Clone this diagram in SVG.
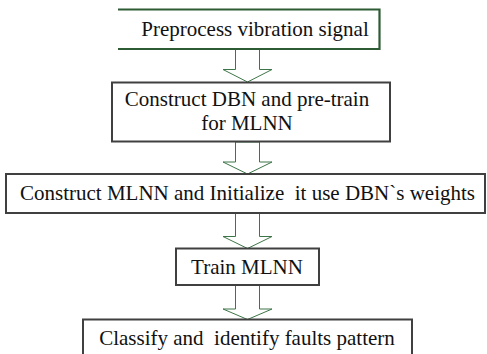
<svg xmlns="http://www.w3.org/2000/svg" width="487" height="354" viewBox="0 0 487 354">
<defs>
<style>
.box{fill:#fff;stroke:#404040;stroke-width:2}
.gbox{fill:#fff;stroke:#2d5b34;stroke-width:2.2}
.arr{fill:#fff;stroke:#3d7548;stroke-width:1}
text{font-family:"Liberation Serif","Times New Roman",serif;font-size:21px;fill:#111;text-anchor:middle;white-space:pre}
</style>
</defs>
<rect width="487" height="354" fill="#fff"/>
<g id="connectors">
<polygon class="arr" points="235.5,49.5 259.5,49.5 259.5,69.5 272,69.5 247.5,82 223,69.5 235.5,69.5"/>
<polygon class="arr" points="235.5,142 259.5,142 259.5,162 272,162 247.5,174 223,162 235.5,162"/>
<polygon class="arr" points="235.5,213 259.5,213 259.5,236.5 272,236.5 247.5,248.5 223,236.5 235.5,236.5"/>
<polygon class="arr" points="235.5,285 259.5,285 259.5,309 272,309 247.5,319.5 223,309 235.5,309"/>
</g>
<g id="n1">
<path class="gbox" d="M118,9.5 H379.5 V49 H118" fill="none"/>
<text x="255" y="36">Preprocess vibration signal</text>
</g>
<g id="n2">
<rect class="box" x="112" y="82.5" width="278" height="59"/>
<text x="247" y="106">Construct DBN and pre-train</text>
<text x="247" y="130">for MLNN</text>
</g>
<g id="n3">
<rect class="box" x="6" y="174" width="479" height="39"/>
<text x="247.5" y="200" xml:space="preserve">Construct MLNN and Initialize  it use DBN`s weights</text>
</g>
<g id="n4">
<rect class="box" x="176" y="248.5" width="143" height="36.5"/>
<text x="247" y="274">Train MLNN</text>
</g>
<g id="n5">
<rect class="box" x="83" y="319.5" width="329" height="40"/>
<text x="247" y="345" xml:space="preserve">Classify and  identify faults pattern</text>
</g>
</svg>
